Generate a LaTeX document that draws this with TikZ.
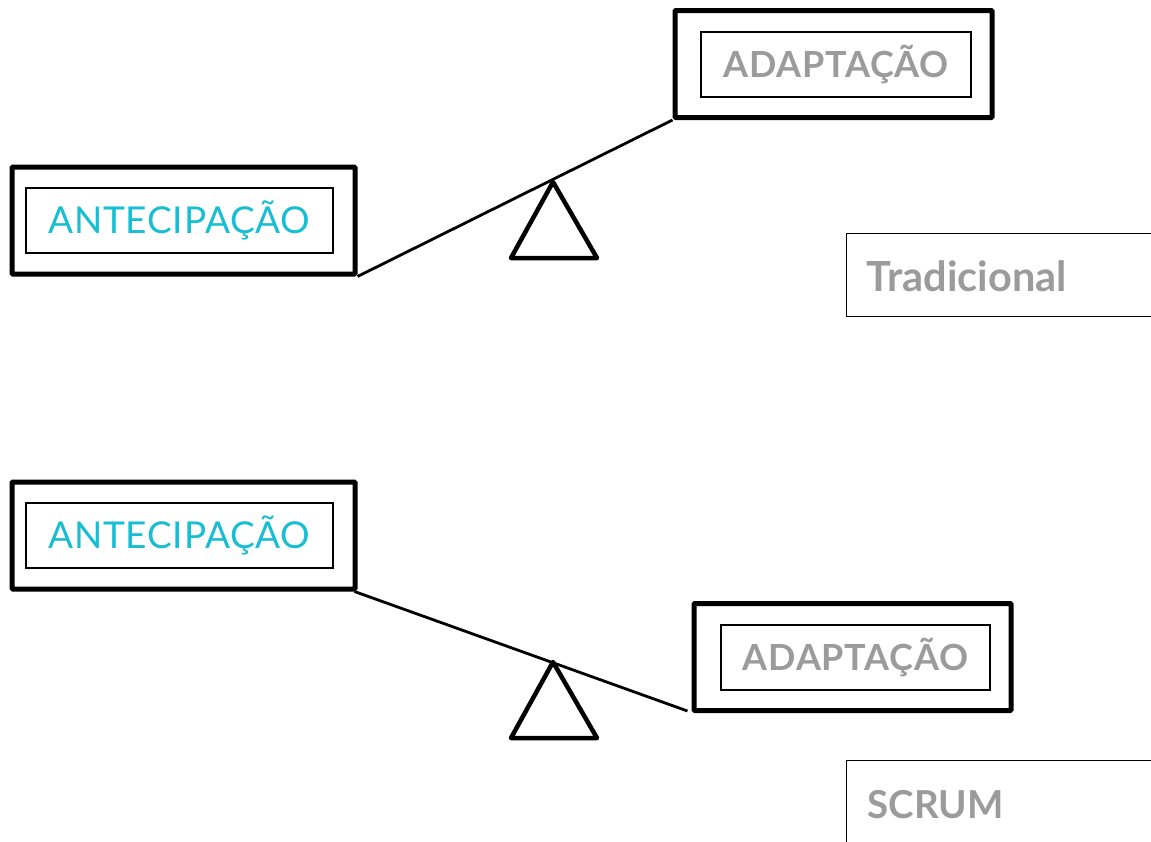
\documentclass[tikz,border=0pt]{standalone}
\usepackage{fontspec}
\setmainfont{Lato}
\newfontfamily\spacedfont[LetterSpace=2]{Lato}
\definecolor{cyanT}{HTML}{17BED3}
\definecolor{greyT}{HTML}{9B9B9B}
\begin{document}
\begin{tikzpicture}[x=1pt,y=-1pt,
  outerbox/.style={draw=black,line width=5pt,minimum width=343pt,minimum height=107pt,inner sep=0pt,rounded corners=1pt},
  innerbox/.style={draw=black,line width=1.3pt,minimum width=307pt,minimum height=65pt,inner sep=0pt},
  antext/.style={text=cyanT,font=\spacedfont\fontsize{37}{40}\selectfont},
  adtext/.style={text=greyT,font=\spacedfont\bfseries\fontsize{36}{40}\selectfont},
  labelbox/.style={draw=black,line width=1.3pt,anchor=north west,minimum width=330pt,inner sep=0pt},
  labtext/.style={text=greyT,font=\bfseries\fontsize{41.5}{44}\selectfont,anchor=base west},
  beam/.style={line width=2.8pt},
  fulcrum/.style={line width=4.5pt,line join=round}]
\useasboundingbox (0,0) rectangle (1151,841);
% top scale
\node[outerbox] (antO1) at (183.5,220.5) {};
\node[innerbox,antext] (antI1) at (179.5,220.5) {ANTECIPAÇÃO};
\node[outerbox,minimum width=317pt] (adaO1) at (833.5,64) {};
\node[innerbox,adtext,minimum width=270pt] (adaI1) at (836,64.5) {ADAPTAÇÃO};
\draw[beam] (antO1.south east) -- (adaO1.south west);
\coordinate (t1a) at (553,182);
\coordinate (t1b) at (511,258);
\coordinate (t1c) at (597,258);
\draw[fulcrum] (t1a) -- (t1b) -- (t1c) -- cycle;
\node[labelbox,minimum height=83pt] (trad) at (846,233) {};
\node[labtext] (tradT) at (863,291) {Tradicional};
% bottom scale
\node[outerbox] (antO2) at (183.5,535.5) {};
\node[innerbox,antext] (antI2) at (179.5,535.5) {ANTECIPAÇÃO};
\node[outerbox,minimum width=317pt] (adaO2) at (852.5,657) {};
\node[innerbox,adtext,minimum width=269pt] (adaI2) at (855.5,657.5) {ADAPTAÇÃO};
\draw[beam] ([xshift=-3pt]antO2.south east) -- ([xshift=-4pt,yshift=2pt]adaO2.south west);
\coordinate (t2a) at (553,662);
\coordinate (t2b) at (511,738);
\coordinate (t2c) at (597,738);
\draw[fulcrum] (t2a) -- (t2b) -- (t2c) -- cycle;
\node[labelbox,minimum height=100pt] (scrum) at (846,760) {};
\node[labtext,font=\bfseries\fontsize{38.5}{44}\selectfont] (scrumT) at (864,818) {SCRUM};
\end{tikzpicture}
\end{document}
